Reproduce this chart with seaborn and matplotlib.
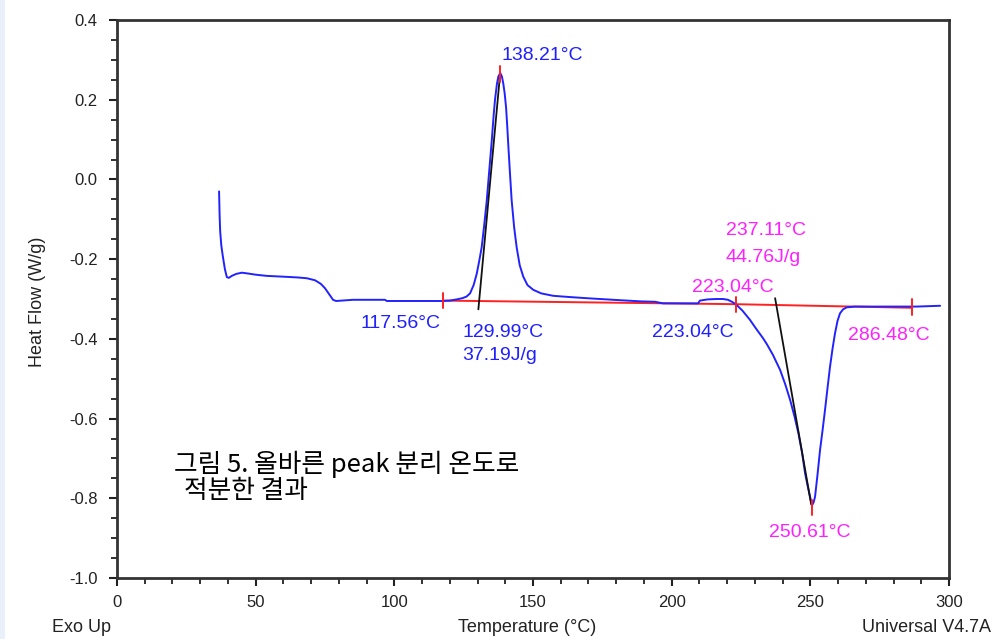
import matplotlib
matplotlib.use("Agg")
import matplotlib.pyplot as plt
import seaborn as sns
import numpy as np
import pandas as pd
from matplotlib.ticker import MultipleLocator, FormatStrFormatter
from matplotlib.patches import Rectangle

# ---------------- data ----------------
temperature = [36.8, 37.0, 37.2, 37.6, 38.1, 38.9, 39.6, 40.3, 41.4, 43.0, 45.0, 47.2, 50.0, 54.0,
               60.0, 65.3, 68.5, 71.4, 73.5, 75.0, 76.5, 77.9, 79.0, 85.1, 96.6, 97.3, 110.0, 117.5,
               120.0, 122.5, 124.5, 126.0, 127.3, 128.6, 129.7, 130.6, 131.5, 132.4, 133.3, 134.2,
               135.1, 135.8, 136.3, 137.0, 137.5, 138.2, 138.8, 139.3, 139.8, 140.3, 140.7, 141.1,
               141.7, 142.3, 143.2, 144.1, 145.2, 146.5, 148.0, 150.1, 153.0, 157.3, 163.0, 169.4,
               178.9, 189.0, 194.0, 196.9, 205.0, 209.5, 210.2, 213.0, 216.2, 218.5, 220.3, 222.0,
               223.4, 225.5, 228.2, 230.5, 232.9, 234.3, 236.5, 239.1, 241.0, 242.7, 244.3, 245.7,
               247.0, 248.1, 249.0, 249.9, 250.6, 251.2, 251.7, 252.6, 253.5, 254.4, 255.3, 256.2,
               257.1, 258.0, 258.9, 259.8, 260.7, 261.8, 263.1, 266.0, 270.3, 280.0, 288.3, 296.8]
heat_flow = [-0.03, -0.09, -0.13, -0.165, -0.19, -0.225, -0.245, -0.247, -0.242, -0.237, -0.234,
             -0.236, -0.239, -0.242, -0.244, -0.246, -0.248, -0.253, -0.262, -0.273, -0.288, -0.302,
             -0.305, -0.302, -0.302, -0.305, -0.305, -0.305, -0.304, -0.301, -0.298, -0.294, -0.286,
             -0.265, -0.237, -0.205, -0.17, -0.115, -0.055, 0.02, 0.095, 0.16, 0.2, 0.24, 0.258,
             0.267, 0.258, 0.24, 0.215, 0.18, 0.135, 0.085, 0.015, -0.052, -0.12, -0.17, -0.215,
             -0.244, -0.265, -0.277, -0.286, -0.292, -0.295, -0.298, -0.302, -0.306, -0.307, -0.311,
             -0.311, -0.311, -0.304, -0.301, -0.300, -0.300, -0.302, -0.308, -0.315, -0.329, -0.352,
             -0.375, -0.398, -0.413, -0.44, -0.478, -0.515, -0.553, -0.595, -0.637, -0.685, -0.737,
             -0.768, -0.796, -0.818, -0.81, -0.796, -0.74, -0.679, -0.63, -0.578, -0.523, -0.47,
             -0.425, -0.386, -0.355, -0.336, -0.326, -0.321, -0.319, -0.319, -0.319, -0.319, -0.317]

# integration baselines (T, HF)
baseline1_T = [117.56, 223.04]
baseline1_HF = [-0.304, -0.313]
baseline2_T = [223.04, 286.48]
baseline2_HF = [-0.313, -0.322]

# onset tangent lines
tangent1_T = [130.3, 138.1]
tangent1_HF = [-0.326, 0.262]
tangent2_T = [237.3, 250.3]
tangent2_HF = [-0.298, -0.815]

# red marker ticks (T, low, high)
marker_T = [117.56, 223.04, 286.48, 138.21, 250.61]
marker_lo = [-0.323, -0.333, -0.339, 0.245, -0.842]
marker_hi = [-0.285, -0.294, -0.300, 0.285, -0.804]

x_ticks = [0, 50, 100, 150, 200, 250, 300]
y_ticks = [0.4, 0.2, 0.0, -0.2, -0.4, -0.6, -0.8, -1.0]

# ---------------- figure ----------------
sns.set_style("ticks")
plt.rcParams['font.family'] = ['Liberation Sans', 'DejaVu Sans']

fig = plt.figure(figsize=(10.04, 6.39), dpi=100)
fig.patch.set_facecolor('white')
fig.add_artist(Rectangle((0, 0), 5 / 1004, 1, transform=fig.transFigure,
                         facecolor='#e9f0f9', edgecolor='none'))
ax = fig.add_axes([117 / 1004, 1 - 578 / 639, (949 - 117) / 1004, (578 - 20) / 639])

df = pd.DataFrame({"T": temperature, "HF": heat_flow})
sns.lineplot(data=df, x="T", y="HF", color="#2222ff", lw=1.4, sort=False,
             estimator=None, ax=ax, zorder=3)

red = "#ff2020"
ax.plot(baseline1_T, baseline1_HF, color=red, lw=1.4, zorder=2)
ax.plot(baseline2_T, baseline2_HF, color=red, lw=1.4, zorder=2)
ax.plot(tangent1_T, tangent1_HF, color="#111111", lw=1.3, zorder=4)
ax.plot(tangent2_T, tangent2_HF, color="#111111", lw=1.3, zorder=4)
for t, lo, hi in zip(marker_T, marker_lo, marker_hi):
    ax.plot([t, t], [lo, hi], color=red, lw=1.4, zorder=5)

ax.set_xlim(0, 300)
ax.set_ylim(-1.0, 0.4)
ax.set_xticks(x_ticks)
ax.set_yticks(y_ticks)
ax.xaxis.set_minor_locator(MultipleLocator(10))
ax.yaxis.set_minor_locator(MultipleLocator(0.05))
ax.yaxis.set_major_formatter(FormatStrFormatter('%.1f'))
ax.tick_params(axis='both', which='major', direction='out', length=6, width=1.5,
               color='#222222', labelsize=12, labelcolor='#222222')
ax.tick_params(axis='x', which='major', pad=6)
ax.tick_params(axis='y', which='major', pad=8)
ax.tick_params(axis='both', which='minor', direction='out', length=4, width=1.3, color='#222222')
for s in ax.spines.values():
    s.set_visible(True)
    s.set_linewidth(2)
    s.set_color('#333333')
ax.set_xlabel("")
ax.set_ylabel("")

blue = "#2020ff"
mag = "#ff20ff"
fs = 14
ax.text(138.5, 0.310, "138.21°C", color=blue, fontsize=fs, ha='left', va='center')
ax.text(116.5, -0.361, "117.56°C", color=blue, fontsize=fs, ha='right', va='center')
ax.text(124.5, -0.383, "129.99°C", color=blue, fontsize=fs, ha='left', va='center')
ax.text(124.5, -0.443, "37.19J/g", color=blue, fontsize=fs, ha='left', va='center')
ax.text(222.5, -0.383, "223.04°C", color=blue, fontsize=fs, ha='right', va='center')
ax.text(219.5, -0.127, "237.11°C", color=mag, fontsize=fs, ha='left', va='center')
ax.text(219.5, -0.195, "44.76J/g", color=mag, fontsize=fs, ha='left', va='center')
ax.text(207.5, -0.270, "223.04°C", color=mag, fontsize=fs, ha='left', va='center')
ax.text(263.5, -0.391, "286.48°C", color=mag, fontsize=fs, ha='left', va='center')
ax.text(235.0, -0.887, "250.61°C", color=mag, fontsize=fs, ha='left', va='center')

kfam = ['Noto Sans CJK KR', 'DejaVu Sans']
ax.text(20.5, -0.715, "그림 5. 올바른 peak 분리 온도로", fontsize=18.5, family=kfam,
        ha='left', va='center', color='black', fontweight='light')
ax.text(24.0, -0.781, "적분한 결과", fontsize=18.5, family=kfam,
        ha='left', va='center', color='black', fontweight='light')

ylab_y = 1 - 628 / 639
fig.text(52 / 1004, ylab_y, "Exo Up", fontsize=13, ha='left', va='center', color='#222222')
fig.text(527 / 1004, ylab_y, "Temperature (°C)", fontsize=13, ha='center', va='center', color='#222222')
fig.text(862 / 1004, ylab_y, "Universal V4.7A", fontsize=13, ha='left', va='center', color='#222222')
fig.text(38 / 1004, 1 - 302 / 639, "Heat Flow (W/g)", fontsize=13, rotation=90,
         ha='center', va='center', color='#222222')

fig.savefig("out.png", dpi=100, facecolor='white')
